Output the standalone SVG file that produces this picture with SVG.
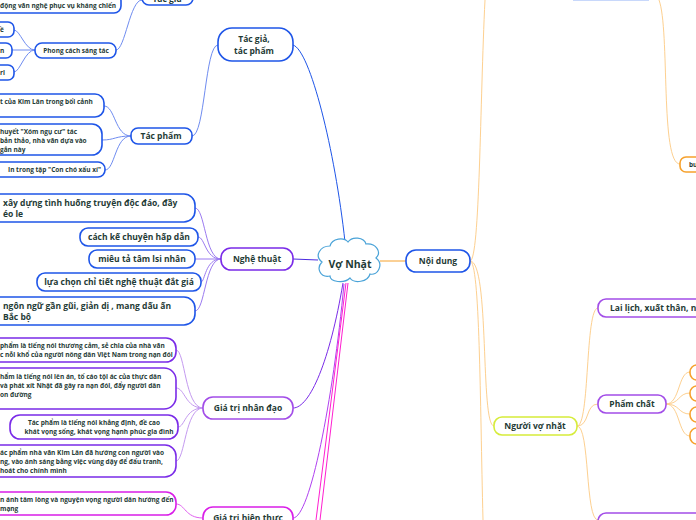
<svg xmlns="http://www.w3.org/2000/svg" width="696" height="520" viewBox="0 0 696 520">
<style>
text{font-family:"Open Sans","Noto Sans",sans-serif;font-weight:bold;fill:#1f3b36}
.s{font-size:6.5px}.m{font-size:8.5px}.l{font-size:9.5px}
.b{fill:#fff;stroke:#1e55e8;stroke-width:1.6}
.p{fill:#fff;stroke:#7a2be8;stroke-width:1.6}
.pl{fill:#fff;stroke:#a24de8;stroke-width:1.6}
.mg{fill:#fff;stroke:#d91ee8;stroke-width:1.6}
.o{fill:#fff;stroke:#f6a12c;stroke-width:1.6}
.c{fill:none;stroke-width:1}
</style>
<g id="connectors">
<path class="c" stroke="#1e55e8" stroke-width="1.6" d="M345,242 C335,150 310,50 293,45"/>
<path class="c" stroke="#6f8cf0" d="M218,45 C205,45 205,136 192,136"/>
<path class="c" stroke="#6f8cf0" d="M142,0 C130,0 125,50 116,50"/>
<path class="c" stroke="#6f8cf0" d="M35,50 C25,50 20,30 14,30 M35,50 L12,50 M35,50 C25,50 20,72 14,72"/>
<path class="c" stroke="#6f8cf0" d="M131,136 C115,136 115,106 104,106 M131,136 C115,136 115,140 102,140 M131,136 C115,136 115,170 105,170"/>
<path class="c" stroke="#4b2be0" stroke-width="1.4" d="M318,260 L293,259"/>
<path class="c" stroke="#9b7af0" d="M221,259 C205,259 205,208 195,208 M221,259 C205,259 205,237 198,237 M221,259 L195,259 M221,259 C205,259 205,282 201,282 M221,259 C205,259 205,311 195,311"/>
<path class="c" stroke="#7a2be8" stroke-width="1.3" d="M343,283 C330,360 310,408 293,408"/>
<path class="c" stroke="#c49af0" d="M203,408 C185,408 185,350 176,350 M203,408 C185,408 185,388 176,388 M203,408 C185,408 185,427 178,427 M203,408 C185,408 185,461 176,461"/>
<path class="c" stroke="#b040f0" stroke-width="1.3" d="M344,284 C333,400 310,518 293,518"/>
<path class="c" stroke="#e060f0" d="M203,518 C185,518 185,504 176,504"/>
<path class="c" stroke="#ff1ed0" stroke-width="2" d="M346,283 L316,520 M348,283 L320,520"/>
<path class="c" stroke="#f6a12c" stroke-width="1.2" d="M380,261 L406,261"/>
<path class="c" stroke="#fdd090" d="M470,261 C480,261 480,100 485,0 M470,261 C490,261 480,426 494,426 M470,261 C480,261 480,400 483,520"/>
<path class="c" stroke="#fdd090" d="M659,0 C670,30 660,164 680,164"/>
<path class="c" stroke="#fdd090" d="M577,426 C590,426 585,308 598,308 M577,426 C590,426 585,404 598,404 M577,426 C590,426 585,520 598,520"/>
<path class="c" stroke="#f6a12c" d="M573,426 L577,426 M666,404 L670,404"/>
<path class="c" stroke="#fdd090" d="M666,404 C680,404 678,372 690,372 M666,404 C680,404 678,393 690,393 M666,404 C680,404 678,414 690,414 M666,404 C680,404 678,436 690,436"/>
<rect x="573" y="-1" width="76" height="2" fill="#c8d8fb"/>
</g>
<g id="root"><path d="M330,246 C332,238 344,237 348,242 C352,236 364,237 366,244 C376,243 382,252 376,258 C384,264 378,276 370,274 C368,282 354,284 350,278 C344,284 330,282 330,276 C320,278 316,268 322,262 C314,256 320,246 330,246 Z" fill="#fff" stroke="#4aa3d8" stroke-width="1.2"/><text x="350" y="268" text-anchor="middle" style="font-size:10.5px">Vợ Nhặt</text></g>
<g id="tacgia"><rect class="b" x="142" y="-10" width="51" height="15" rx="7"/><text class="m" x="167" y="2" text-anchor="middle">Tác giả</text></g>
<g id="tg1"><rect class="b" x="-12" y="-6" width="133" height="19" rx="7"/><text class="s" x="0" y="8">động văn nghệ phục vụ kháng chiến</text></g>
<g id="pc"><rect class="b" x="35" y="43" width="81" height="15" rx="7"/><text class="s" x="76" y="53" text-anchor="middle">Phong cách sáng tác</text></g>
<g id="pc1"><rect class="b" x="-12" y="22" width="26" height="15" rx="6"/><text class="s" x="0" y="32">ề</text></g>
<g id="pc2"><rect class="b" x="-12" y="43" width="24" height="15" rx="6"/><text class="s" x="0" y="53">n</text></g>
<g id="pc3"><rect class="b" x="-12" y="65" width="26" height="15" rx="6"/><text class="s" x="0" y="75">ri</text></g>
<g id="tgtp"><rect class="b" x="218" y="28" width="75" height="33" rx="14"/><text class="m" x="254" y="42" text-anchor="middle">Tác giả,</text><text class="m" x="254" y="54" text-anchor="middle">tác phẩm</text></g>
<g id="tp"><rect class="b" x="131" y="128" width="61" height="16" rx="7"/><text class="m" x="161" y="139" text-anchor="middle">Tác phẩm</text></g>
<g id="tp1"><rect class="b" x="-12" y="94" width="116" height="23" rx="9"/><text class="s" x="0" y="104">t của Kim Lân trong bối cảnh</text></g>
<g id="tp2"><rect class="b" x="-12" y="124" width="114" height="31" rx="10"/><text class="s" x="0" y="134">huyết "Xóm ngụ cư" tác</text><text class="s" x="0" y="143"> bản thảo, nhà văn dựa vào</text><text class="s" x="0" y="152">gắn này</text></g>
<g id="tp3"><rect class="b" x="-12" y="162" width="117" height="15" rx="7"/><text class="s" x="8" y="172">In trong tập "Con chó xấu xí"</text></g>
<g id="nt"><rect class="p" x="221" y="248" width="72" height="22" rx="10"/><text class="m" x="257" y="262" text-anchor="middle">Nghệ thuật</text></g>
<g id="nt1"><rect class="b" x="-12" y="194" width="207" height="28" rx="11"/><text class="m" x="3" y="206">xây dựng tình huống truyện độc đáo, đầy</text><text class="m" x="3" y="217">éo le</text></g>
<g id="nt2"><rect class="b" x="80" y="228" width="118" height="18" rx="8"/><text class="m" x="139" y="240" text-anchor="middle">cách kế chuyện hấp dẫn</text></g>
<g id="nt3"><rect class="b" x="89" y="250" width="106" height="18" rx="8"/><text class="m" x="142" y="262" text-anchor="middle">miêu tả tâm lsi nhân</text></g>
<g id="nt4"><rect class="b" x="37" y="273" width="164" height="18" rx="8"/><text class="m" x="119" y="285" text-anchor="middle">lựa chọn chỉ tiết nghệ thuật đắt giá</text></g>
<g id="nt5"><rect class="b" x="-12" y="297" width="207" height="28" rx="11"/><text class="m" x="3" y="309">ngôn ngữ gần gũi, giản dị , mang dấu ấn</text><text class="m" x="3" y="320">Bắc bộ</text></g>
<g id="nd"><rect class="pl" x="203" y="397" width="90" height="22" rx="10"/><text class="m" x="248" y="411" text-anchor="middle">Giá trị nhân đạo</text></g>
<g id="nd1"><rect class="p" x="-12" y="338" width="188" height="24" rx="10"/><text class="s" x="0" y="348">phẩm là tiếng nói thương cảm, sẻ chia của nhà văn</text><text class="s" x="0" y="357">c nỗi khổ của người nông dân Việt Nam trong nạn đói</text></g>
<g id="nd2"><rect class="p" x="-12" y="368" width="188" height="41" rx="12"/><text class="s" x="0" y="379">hẩm là tiếng nói lên án, tố cáo tội ác của thực dân</text><text class="s" x="0" y="388">và phát xít Nhật đã gây ra nạn đói, đẩy người dân</text><text class="s" x="0" y="397">on đường</text></g>
<g id="nd3"><rect class="p" x="10" y="415" width="168" height="24" rx="10"/><text class="s" x="94" y="425" text-anchor="middle">Tác phẩm là tiếng nói khẳng định, đề cao</text><text class="s" x="99" y="434" text-anchor="middle">khát vọng sống, khát vọng hạnh phúc gia đình</text></g>
<g id="nd4"><rect class="p" x="-12" y="445" width="188" height="32" rx="11"/><text class="s" x="0" y="455">ác phẩm nhà văn Kim Lân đã hướng con người vào</text><text class="s" x="0" y="464">ng, vào ánh sáng bằng việc vùng dậy để đấu tranh,</text><text class="s" x="0" y="473">hoát cho chính mình</text></g>
<g id="ht"><rect class="mg" x="203" y="507" width="90" height="23" rx="10"/><text class="m" x="248" y="521" text-anchor="middle">Giá trị hiện thực</text></g>
<g id="ht1"><rect class="mg" x="-12" y="492" width="188" height="23" rx="10"/><text class="s" x="0" y="502">n ánh tâm lòng và nguyện vọng người dân hướng đến</text><text class="s" x="0" y="511"> mạng</text></g>
<g id="noidung"><rect class="b" x="406" y="250" width="64" height="22" rx="10"/><text class="m" x="438" y="264" text-anchor="middle">Nội dung</text></g>
<g id="nvn"><rect x="494" y="417" width="83" height="18" rx="8" fill="#fff" stroke="#d6ec3a" stroke-width="1.6"/><text class="m" x="535" y="429" text-anchor="middle">Người vợ nhặt</text></g>
<g id="ll"><rect class="pl" x="598" y="299" width="110" height="18" rx="8"/><text class="m" x="610" y="311">Lai lịch, xuất thân, ng</text></g>
<g id="pch"><rect class="pl" x="598" y="395" width="68" height="18" rx="8"/><text class="m" x="632" y="407" text-anchor="middle">Phẩm chất</text></g>
<g id="o1"><rect class="o" x="690" y="365" width="20" height="15" rx="7"/></g>
<g id="o2"><rect class="o" x="690" y="386" width="20" height="15" rx="7"/></g>
<g id="o3"><rect class="o" x="690" y="407" width="20" height="15" rx="7"/></g>
<g id="o4"><rect class="o" x="690" y="428" width="20" height="16" rx="7"/></g>
<g id="bu"><rect class="o" x="680" y="157" width="30" height="15" rx="6"/><text class="s" x="689" y="167">bu</text></g>
<g id="pbot"><rect class="pl" x="598" y="513" width="110" height="18" rx="8"/></g>
</svg>
